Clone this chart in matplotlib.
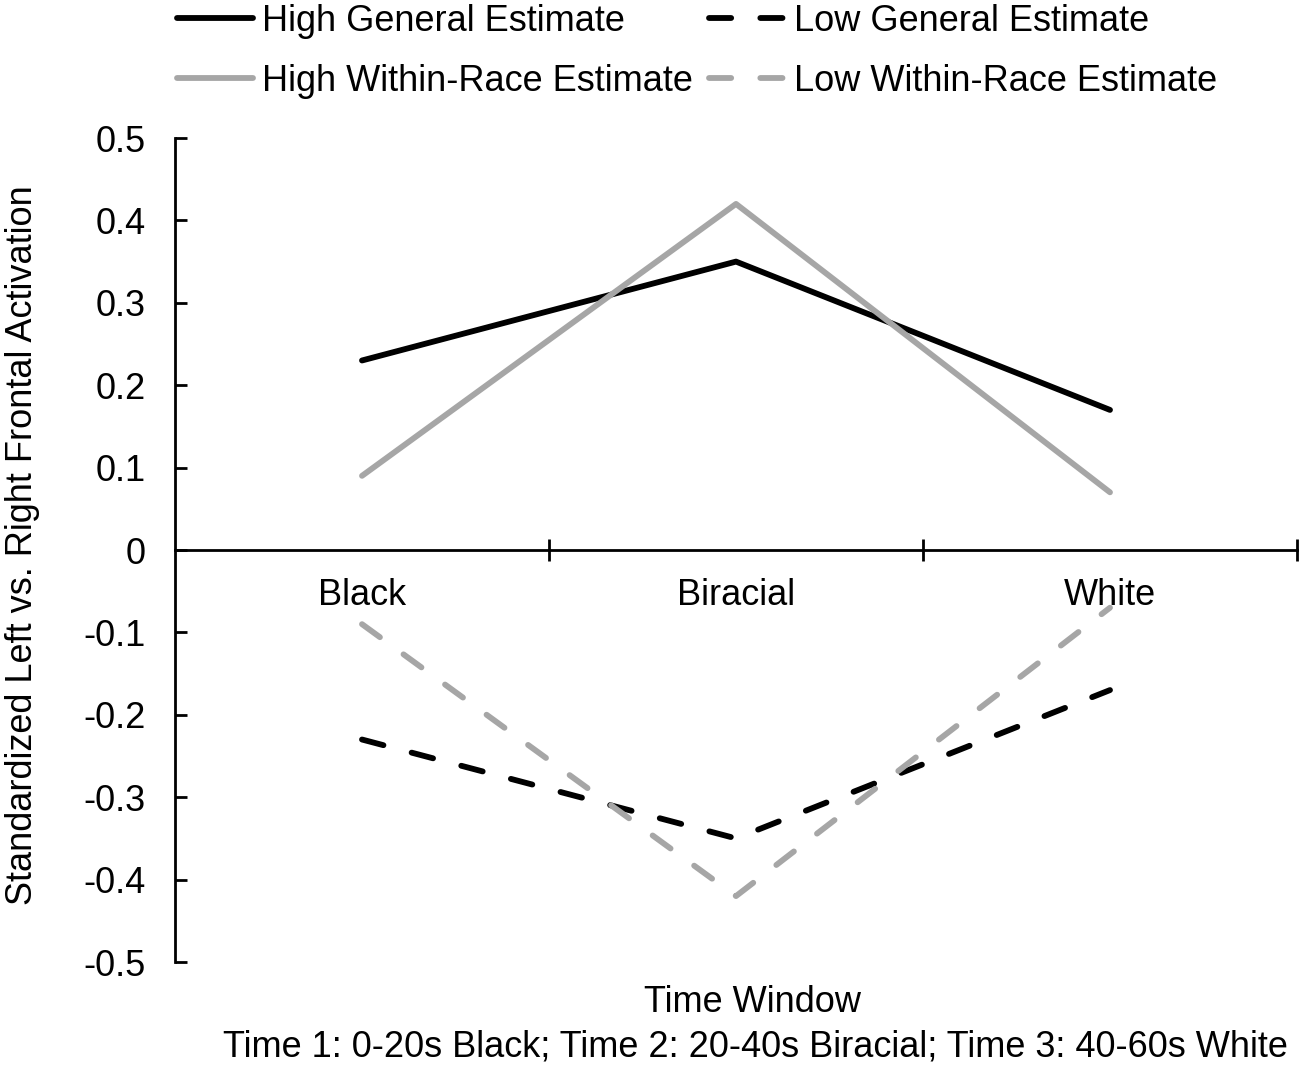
import matplotlib.pyplot as plt
from matplotlib.lines import Line2D

plt.rcParams['font.family'] = ['Liberation Sans', 'DejaVu Sans']

# data
categories = ["Black", "Biracial", "White"]
high_general = [0.23, 0.35, 0.17]
low_general = [-0.23, -0.35, -0.17]
high_within = [0.09, 0.42, 0.07]
low_within = [-0.09, -0.42, -0.07]
y_ticks = [0.5, 0.4, 0.3, 0.2, 0.1, 0, -0.1, -0.2, -0.3, -0.4, -0.5]

GREY = "#a6a6a6"
FS = 26
LW = 4.2
DASH = (3.8, 5.0)

fig = plt.figure(figsize=(13.06, 10.74), dpi=100)
ax = fig.add_axes([175 / 1306, 1 - 962 / 1074, (1297 - 175) / 1306, (962 - 138) / 1074])

x = [i + 0.5 for i in range(len(categories))]
ax.plot(x, high_general, color="black", lw=LW, solid_capstyle="round", label="High General Estimate")
ax.plot(x, high_within, color=GREY, lw=LW, solid_capstyle="round", label="High Within-Race Estimate")
ax.plot(x, low_general, color="black", lw=LW, dashes=DASH, dash_capstyle="round", label="Low General Estimate")
ax.plot(x, low_within, color=GREY, lw=LW, dashes=DASH, dash_capstyle="round", label="Low Within-Race Estimate")

ax.set_xlim(0, 3)
ax.set_ylim(-0.5, 0.5)
ax.set_yticks(y_ticks)
ax.set_yticklabels(["0" if v == 0 else f"{v:.1f}" for v in y_ticks])

ax.spines["top"].set_visible(False)
ax.spines["right"].set_visible(False)
ax.spines["bottom"].set_position(("data", 0))
for s in ("left", "bottom"):
    ax.spines[s].set_linewidth(2.0)

ax.set_xticks([1, 2, 3])
ax.set_xticklabels([])
ax.set_xticks(x, minor=True)
ax.set_xticklabels(categories, minor=True)
ax.tick_params(axis="x", which="major", direction="inout", length=16, width=2.0)
ax.tick_params(axis="x", which="minor", length=0, pad=20, labelsize=FS)
ax.tick_params(axis="y", direction="in", length=8.5, width=2.0, pad=21, labelsize=FS)

fig.text(23 / 1306, 1 - 545 / 1074, "Standardized Left vs. Right Frontal Activation",
         fontsize=FS, rotation=90, ha="center", va="center")
fig.text(752 / 1306, 1 - 1003 / 1074, "Time Window", fontsize=FS, ha="center", va="center")
fig.text(1288 / 1306, 1 - 1047 / 1074,
         "Time 1: 0-20s Black; Time 2: 20-40s Biracial; Time 3: 40-60s White",
         fontsize=FS, ha="right", va="center")

handles = [
    Line2D([], [], color="black", lw=LW, solid_capstyle="round"),
    Line2D([], [], color=GREY, lw=LW, solid_capstyle="round"),
    Line2D([], [], color="black", lw=LW, dashes=DASH, dash_capstyle="round"),
    Line2D([], [], color=GREY, lw=LW, dashes=DASH, dash_capstyle="round"),
]
labels = ["High General Estimate", "High Within-Race Estimate",
          "Low General Estimate", "Low Within-Race Estimate"]
fig.legend(handles, labels, ncol=2, loc="upper left", bbox_to_anchor=(177 / 1306, 1 - 4 / 1074),
           frameon=False, fontsize=FS, handlelength=2.1, handletextpad=0.25,
           columnspacing=0.45, labelspacing=0.68, borderpad=0.0, borderaxespad=0.0)

fig.savefig("out.png", dpi=100)
